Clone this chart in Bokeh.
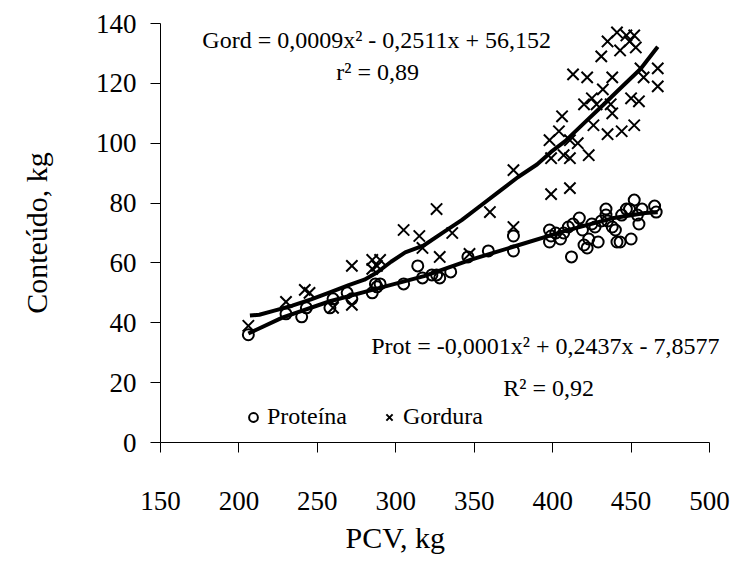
from bokeh.plotting import figure
from bokeh.models import (Range1d, FixedTicker, Legend, LegendItem, Label, Title)
from bokeh.embed import file_html
from bokeh.resources import INLINE

# ---- data ----
x_ticks = [150, 200, 250, 300, 350, 400, 450, 500]
y_ticks = [0, 20, 40, 60, 80, 100, 120, 140]

gord_x = [206, 230, 242, 245, 260, 272, 272, 285, 285, 290, 288,
          305, 315, 317, 326, 328, 336, 347, 360, 375, 375,
          399, 398, 399, 404, 406, 407, 411, 411, 411, 413,
          416, 420, 422, 423, 425, 426, 428, 431, 432, 435,
          435, 437, 438, 438, 441, 443, 444, 447, 449, 450,
          452, 452, 453, 455, 456, 458, 467, 467]
gord_y = [39, 47, 51, 50, 45, 59, 46, 61, 58, 61, 59,
          71, 69, 65, 78, 62, 70, 63, 77, 91, 72,
          83, 101, 95, 104, 109, 96, 85, 95, 101, 123,
          100, 113, 122, 96, 115, 106, 113, 129, 118, 134,
          103, 113, 122, 110, 137, 131, 104, 136, 134, 115,
          106, 136, 132, 114, 125, 122, 125, 119]

prot_x = [206, 230, 240, 243, 258, 260, 269, 272, 285, 287,
          288, 290, 305, 314, 317, 323, 326, 328, 335, 346,
          359, 375, 375, 398, 398, 399, 402, 405, 407, 410,
          412, 413, 417, 419, 420, 422, 423, 425, 427, 429,
          431, 434, 434, 435, 438, 440, 441, 443, 444, 447,
          449, 450, 452, 454, 455, 457, 465, 466]
prot_y = [36, 43, 42, 45, 45, 48, 50, 48, 50, 53,
          52, 53, 53, 59, 55, 56, 56, 55, 57, 62,
          64, 69, 64, 71, 67, 69, 70, 68, 70, 72,
          62, 73, 75, 71, 66, 65, 68, 73, 72, 67,
          74, 76, 78, 74, 72, 71, 67, 67, 76, 78,
          78, 68, 81, 76, 73, 78, 79, 77]

gord_fit_x = [207, 213, 222, 234, 246, 258, 270, 280, 288, 297, 306, 318, 330,
              342, 354, 366, 378, 390, 399, 408, 420, 432, 444, 456, 467]
gord_fit_y = [42.4, 42.7, 44.0, 45.7, 47.8, 50.2, 52.6, 54.4, 56.8, 60.4, 63.5,
              65.9, 70.1, 74.3, 79.1, 83.9, 88.7, 92.9, 97.1, 100.7, 106.7,
              112.7, 118.8, 124.8, 132.2]
prot_fit_x = [206, 228, 258, 288, 318, 348, 378, 408, 438, 459, 467]
prot_fit_y = [36.4, 41.8, 47.2, 51.4, 55.6, 61.1, 65.9, 70.7, 74.9, 76.7, 76.9]

gord_eq = "Gord = 0,0009x\u00b2 - 0,2511x + 56,152"
gord_r2 = "r\u00b2 = 0,89"
prot_eq = "Prot = -0,0001x\u00b2 + 0,2437x - 7,8577"
prot_r2 = "R\u00b2 = 0,92"

FONT = "Liberation Serif"

p = figure(width=738, height=563, output_backend="svg", toolbar_location=None,
           x_range=Range1d(150, 517.2), y_range=Range1d(0, 140),
           min_border_left=160, min_border_right=2,
           min_border_top=23, min_border_bottom=121)
p.outline_line_color = None
p.xgrid.visible = False
p.ygrid.visible = False
p.background_fill_color = "white"
p.border_fill_color = "white"

for ax in (p.xaxis[0], p.yaxis[0]):
    ax.axis_line_color = "black"
    ax.axis_line_width = 1
    ax.major_tick_line_color = "black"
    ax.major_tick_in = 0
    ax.major_tick_out = 10
    ax.minor_tick_line_color = None
    ax.major_label_text_font = FONT
    ax.major_label_text_font_size = "27px"
    ax.major_label_text_color = "black"

p.xaxis.bounds = (150, 500)
p.xaxis.ticker = FixedTicker(ticks=x_ticks)
p.yaxis.ticker = FixedTicker(ticks=y_ticks)
p.xaxis.major_label_overrides = {t: str(t) for t in x_ticks}
p.yaxis.major_label_overrides = {t: str(t) for t in y_ticks}
p.xaxis.major_label_standoff = 39
p.yaxis.major_label_standoff = 14

p.yaxis.axis_label = "Conteúdo, kg"
p.yaxis.axis_label_text_font = FONT
p.yaxis.axis_label_text_font_size = "30px"
p.yaxis.axis_label_text_font_style = "normal"
p.yaxis.axis_label_text_color = "black"
p.yaxis.axis_label_standoff = 40

p.add_layout(Title(text="PCV, kg", align="left", offset=185, standoff=12,
                   text_font=FONT, text_font_size="30px",
                   text_font_style="normal", text_color="black"), "below")

# trend lines
p.line(gord_fit_x, gord_fit_y, line_color="black", line_width=4)
p.line(prot_fit_x, prot_fit_y, line_color="black", line_width=4)

r_prot = p.scatter(prot_x, prot_y, marker="circle", size=11, fill_color=None,
                   line_color="black", line_width=2)
r_gord = p.scatter(gord_x, gord_y, marker="x", size=16,
                   line_color="black", line_width=2)

legend = Legend(items=[LegendItem(label="Proteína", renderers=[r_prot]),
                       LegendItem(label="Gordura", renderers=[r_gord])],
                orientation="horizontal", location=(82, 12),
                border_line_color=None, background_fill_alpha=0,
                label_text_font=FONT, label_text_font_size="24px",
                label_text_color="black",
                glyph_width=22, glyph_height=22, label_standoff=3,
                spacing=31, padding=0, margin=0)
p.add_layout(legend)

lab_kw = dict(text_font=FONT, text_font_size="24px", text_color="black",
              text_align="center", text_baseline="middle")
p.add_layout(Label(x=287.8, y=134.4, text=gord_eq, **lab_kw))
p.add_layout(Label(x=288.4, y=123.7, text=gord_r2, **lab_kw))
p.add_layout(Label(x=395.3, y=32.4, text=prot_eq, **lab_kw))
p.add_layout(Label(x=397.5, y=18.2, text=prot_r2, **lab_kw))

open("out.html", "w").write(file_html(p, INLINE))
